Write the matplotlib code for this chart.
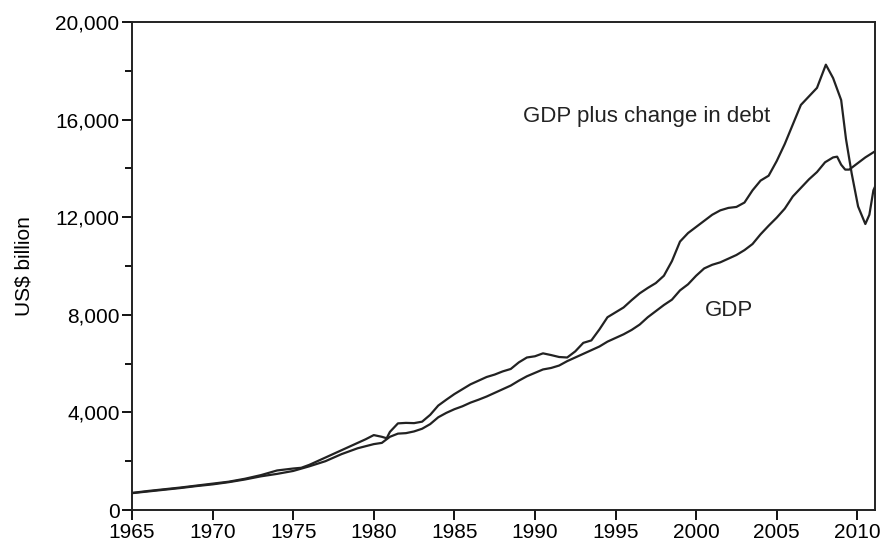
import matplotlib.pyplot as plt
from matplotlib.ticker import MultipleLocator, FuncFormatter

plt.rcParams['font.family'] = ['Liberation Sans', 'DejaVu Sans']

# GDP, US$ billion
gdpYears = [1965, 1966, 1967, 1968, 1969, 1970, 1971, 1972, 1973, 1974, 1975, 1976, 1977, 1978, 1979,
            1980, 1980.5, 1981, 1981.5, 1982, 1982.5, 1983, 1983.5, 1984, 1984.5, 1985, 1985.5,
            1986, 1986.5, 1987, 1987.5, 1988, 1988.5, 1989, 1989.5, 1990, 1990.5, 1991, 1991.5,
            1992, 1992.5, 1993, 1993.5, 1994, 1994.5, 1995, 1995.5, 1996, 1996.5, 1997, 1997.5,
            1998, 1998.5, 1999, 1999.5, 2000, 2000.5, 2001, 2001.5, 2002, 2002.5, 2003, 2003.5,
            2004, 2004.5, 2005, 2005.5, 2006, 2006.5, 2007, 2007.5, 2008, 2008.5, 2008.75,
            2009, 2009.25, 2009.5, 2010, 2010.5, 2011.1]
gdp = [690, 760, 830, 900, 980, 1050, 1140, 1250, 1380, 1480, 1600, 1790, 2000, 2290, 2530,
       2700, 2750, 3000, 3130, 3150, 3220, 3330, 3520, 3800, 3980, 4130, 4250,
       4400, 4520, 4650, 4800, 4950, 5100, 5300, 5480, 5620, 5760, 5820, 5920,
       6100, 6250, 6400, 6550, 6700, 6900, 7050, 7200, 7380, 7600, 7900, 8150,
       8400, 8620, 9000, 9250, 9600, 9900, 10050, 10150, 10300, 10450, 10650, 10900,
       11300, 11650, 11980, 12350, 12850, 13200, 13550, 13850, 14250, 14450, 14480,
       14150, 13950, 13950, 14200, 14450, 14700]

# GDP plus change in debt, US$ billion
debtYears = [1965, 1966, 1967, 1968, 1969, 1970, 1971, 1972, 1973, 1974, 1975, 1975.5, 1976, 1977,
             1978, 1979, 1979.5, 1980, 1980.5, 1980.8, 1981, 1981.5, 1982, 1982.5, 1983, 1983.5,
             1984, 1984.5, 1985, 1985.5, 1986, 1986.5, 1987, 1987.5, 1988, 1988.5, 1989, 1989.5,
             1990, 1990.5, 1991, 1991.5, 1992, 1992.5, 1993, 1993.5, 1994, 1994.5, 1995, 1995.5,
             1996, 1996.5, 1997, 1997.5, 1998, 1998.5, 1999, 1999.5, 2000, 2000.5, 2001, 2001.5,
             2002, 2002.5, 2003, 2003.5, 2004, 2004.5, 2005, 2005.5, 2006, 2006.5, 2007, 2007.5,
             2008.05, 2008.5, 2009, 2009.3, 2009.65, 2010.05, 2010.5, 2010.75, 2011.0, 2011.1]
debtPlus = [700, 780, 850, 920, 1000, 1080, 1160, 1280, 1430, 1620, 1700, 1730, 1850, 2150,
            2450, 2750, 2900, 3070, 3000, 2940, 3200, 3550, 3570, 3560, 3620, 3900,
            4280, 4520, 4750, 4950, 5150, 5300, 5450, 5550, 5680, 5780, 6050, 6250,
            6300, 6420, 6350, 6270, 6250, 6500, 6850, 6950, 7400, 7900, 8100, 8300,
            8600, 8880, 9100, 9300, 9600, 10200, 11000, 11350, 11600, 11850, 12100, 12280,
            12380, 12420, 12600, 13100, 13500, 13700, 14300, 15000, 15800, 16600, 16950, 17300,
            18250, 17700, 16800, 15200, 13800, 12440, 11720, 12100, 13100, 13250]

fig = plt.figure(figsize=(8.86, 5.44), dpi=100)
ax = fig.add_axes([0.149, 0.0625, 0.8386, 0.8971])

ax.plot(gdpYears, gdp, color='#222222', linewidth=1.6)
ax.plot(debtYears, debtPlus, color='#222222', linewidth=1.6)

ax.set_xlim(1965, 2011.1)
ax.set_ylim(0, 20000)
ax.xaxis.set_major_locator(MultipleLocator(5))
ax.yaxis.set_major_locator(MultipleLocator(4000))
ax.yaxis.set_minor_locator(MultipleLocator(2000))
ax.yaxis.set_major_formatter(FuncFormatter(lambda v, p: f'{int(v):,}'))
ax.tick_params(axis='both', which='major', direction='out', length=7, width=1.3,
               labelsize=15, pad=2)
ax.tick_params(axis='y', which='minor', direction='out', length=5, width=1.3)
for s in ax.spines.values():
    s.set_linewidth(1.4)
    s.set_color('#222222')

ax.set_ylabel('US$ billion', fontsize=15, labelpad=16)

ax.text(1989.24, 16110, 'GDP plus change in debt', fontsize=16, va='center', color='#222222')
ax.text(2000.55, 8160, 'GDP', fontsize=16, va='center', color='#222222')

plt.savefig('out.png', dpi=100)
